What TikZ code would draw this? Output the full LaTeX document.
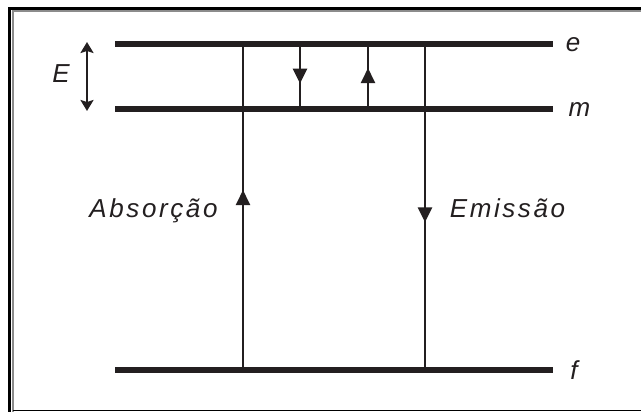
\documentclass[tikz,border=0pt]{standalone}
\usepackage{fontspec}
\setmainfont{Liberation Sans}
\usetikzlibrary{arrows.meta,decorations.markings}
\definecolor{ink}{RGB}{35,31,32}
\definecolor{rim}{RGB}{140,140,140}
\tikzset{
  level/.style={draw=ink,line width=6pt},
  jump/.style={draw=ink,line width=2.4pt},
  tipat/.style 2 args={postaction={decorate},decoration={markings,
      mark=at position #1 with {\arrow{#2}}}},
  upw/.style={tipat={#1}{Triangle[width=14pt,length=15pt]}},
  lbl/.style={inner sep=0pt,text=ink,font=\fontsize{26}{26}\selectfont\itshape},
  word/.style={lbl,font=\fontsize{26}{26}\selectfont\itshape\addfontfeature{LetterSpace=10}},
}
\begin{document}
\begin{tikzpicture}[x=1pt,y=-1pt]
\useasboundingbox (0,0) rectangle (641,412);
\fill[white] (0,0) rectangle (641,412);
% frame
\draw[black,line width=3.2pt] (9.8,412) -- (9.8,8.4) -- (641,8.4);
\draw[rim,line width=1.6pt] (13,412) -- (13,11.2) -- (641,11.2);
\draw[black,line width=1.2pt] (13,410.6) -- (641,410.6);
% energy levels
\coordinate (eL) at (115,44);  \coordinate (eR) at (553,44);
\coordinate (mL) at (115,109); \coordinate (mR) at (553,109);
\coordinate (fL) at (115,370); \coordinate (fR) at (553,370);
\draw[level] (eL) -- (eR);
\draw[level] (mL) -- (mR);
\draw[level] (fL) -- (fR);
% transition ends
\coordinate (ab0) at (243,370); \coordinate (ab1) at (243,44);
\coordinate (em0) at (425,44);  \coordinate (em1) at (425,370);
\coordinate (dn0) at (300,44);  \coordinate (dn1) at (300,109);
\coordinate (up0) at (368,109); \coordinate (up1) at (368,44);
\draw[jump,upw=0.552] (ab0) -- (ab1);
\draw[jump,upw=0.547] (em0) -- (em1);
\draw[jump,upw=0.61] (dn0) -- (dn1);
\draw[jump,upw=0.63] (up0) -- (up1);
% level gap
\coordinate (gT) at (87,42); \coordinate (gB) at (87,111);
\draw[ink,line width=2.4pt,{Stealth[width=13pt,length=11pt,inset=2pt]}-{Stealth[width=13pt,length=11pt,inset=2pt]}] (gT) -- (gB);
% labels
\node[lbl] (lE) at (61,74) {E};
\node[lbl] (le) at (573,45) {e};
\node[lbl] (lm) at (579.5,110) {m};
\node[lbl] (lf) at (574,370) {f};
\node[word,anchor=base] (labs) at (153.5,217) {Absorção};
\node[word,anchor=base] (lemi) at (507.5,217) {Emissão};
\end{tikzpicture}
\end{document}
